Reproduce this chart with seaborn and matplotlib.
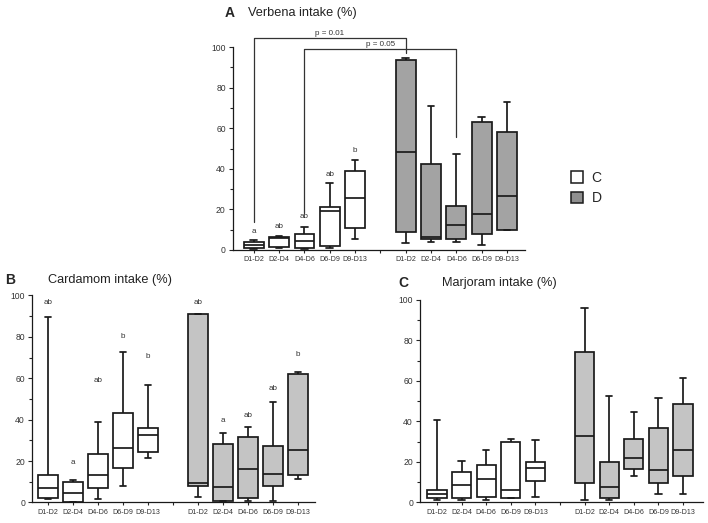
import matplotlib
matplotlib.use("Agg")
import matplotlib.pyplot as plt
from matplotlib.patches import Patch
import seaborn as sns
import pandas as pd

# five-number summaries per box: [min, q1, median, q3, max]
periods = ["D1-D2", "D2-D4", "D4-D6", "D6-D9", "D9-D13"]

verbena_C = [[0.5, 0.8, 2.5, 4.1, 4.9],
             [1.0, 1.3, 5.7, 6.2, 6.9],
             [0.5, 0.8, 4.4, 7.9, 11.5],
             [0.8, 2.0, 19.3, 21.0, 32.8],
             [5.6, 10.8, 25.4, 39.0, 44.3]]
verbena_D = [[3.6, 8.7, 48.4, 93.4, 94.8],
             [4.1, 5.2, 6.6, 42.3, 70.8],
             [4.1, 5.2, 12.5, 21.8, 47.5],
             [2.5, 7.7, 17.7, 63.2, 65.7],
             [9.9, 9.9, 26.8, 58.0, 72.7]]

cardamom_C = [[1.8, 2.0, 7.0, 13.3, 89.5],
              [0.0, 0.0, 4.8, 10.0, 10.8],
              [1.5, 7.0, 13.3, 23.3, 39.0],
              [7.8, 16.5, 26.1, 43.0, 72.7],
              [21.6, 24.2, 32.6, 35.8, 57.0]]
cardamom_D = [[2.5, 7.8, 9.5, 91.3, 91.3],
              [0.5, 0.8, 7.3, 28.1, 33.4],
              [0.8, 2.0, 16.1, 31.8, 36.6],
              [0.8, 7.8, 13.6, 27.5, 48.7],
              [11.5, 13.3, 25.6, 62.0, 63.1]]

marjoram_C = [[1.0, 2.0, 4.3, 5.9, 40.8],
              [1.2, 2.0, 8.4, 15.2, 20.3],
              [1.2, 2.6, 11.4, 18.3, 26.0],
              [2.0, 2.0, 6.3, 29.9, 31.5],
              [2.6, 10.6, 16.9, 20.0, 30.6]]
marjoram_D = [[1.2, 9.4, 32.9, 74.5, 95.9],
              [1.2, 2.0, 7.5, 20.0, 52.3],
              [13.1, 16.6, 22.0, 31.1, 44.6],
              [4.3, 9.7, 16.2, 36.7, 51.5],
              [4.3, 13.1, 25.9, 48.7, 61.3]]

# significance letters
verbena_letters_C = ["a", "ab", "ab", "ab", "b"]
verbena_letter_y_C = [9.2, 11.7, 16.7, 37.0, 49.0]
cardamom_letters_C = ["ab", "a", "ab", "b", "b"]
cardamom_letter_y_C = [96.4, 19.4, 58.7, 80.0, 70.3]
cardamom_letters_D = ["ab", "a", "ab", "ab", "b"]
cardamom_letter_y_D = [96.4, 39.4, 42.0, 55.0, 71.6]

sns.set_style("ticks")
plt.rcParams["font.family"] = ["Liberation Sans", "DejaVu Sans"]

order = [f"C {p}" for p in periods] + ["gap"] + [f"D {p}" for p in periods]


def make_frame(c_stats, d_stats):
    rows = []
    for grp, stats in (("C", c_stats), ("D", d_stats)):
        for p, s in zip(periods, stats):
            for v in s:
                rows.append({"slot": f"{grp} {p}", "group": grp, "value": v})
    return pd.DataFrame(rows)


def draw_panel(ax, c_stats, d_stats, dark, xlim):
    df = make_frame(c_stats, d_stats)
    sns.boxplot(data=df, x="slot", y="value", hue="group", order=order,
                palette={"C": "white", "D": dark}, saturation=1, dodge=False,
                whis=(0, 100), width=0.78, linecolor="#1a1a1a", linewidth=1.25,
                legend=False, capwidths=0.26, ax=ax)
    for art in ax.patches + ax.lines:
        art.set_clip_on(False)
    ax.set_xlim(*xlim)
    ax.set_ylim(0, 100)
    ax.set_xticks(range(11))
    ax.set_xticklabels(periods + [""] + periods, fontsize=5.1, color="#333333")
    ax.set_yticks(range(0, 101, 20))
    ax.set_yticks(range(10, 100, 20), minor=True)
    ax.tick_params(axis="y", labelsize=6.2, labelcolor="#333333", length=3, width=0.8, pad=2)
    ax.tick_params(axis="y", which="minor", length=2, width=0.8)
    ax.tick_params(axis="x", length=2.5, width=0.8, pad=2)
    ax.set_xlabel("")
    ax.set_ylabel("")
    sns.despine(ax=ax)
    for s in ("left", "bottom"):
        ax.spines[s].set_linewidth(0.9)
        ax.spines[s].set_color("#1a1a1a")


def add_letters(ax, offset, letters, ys):
    for i, (t, y) in enumerate(zip(letters, ys)):
        ax.text(offset + i, y, t, ha="center", va="center", fontsize=5.8, color="#333333")


fig = plt.figure(figsize=(7.08, 5.23), dpi=100)
axA = fig.add_axes([0.3287, 0.5220, 0.4124, 0.3881])
axB = fig.add_axes([0.0452, 0.0392, 0.4004, 0.3958])
axC = fig.add_axes([0.5932, 0.0396, 0.3993, 0.3868])

draw_panel(axA, verbena_C, verbena_D, "#a3a3a3", (-0.83, 10.7))
draw_panel(axB, cardamom_C, cardamom_D, "#c4c4c4", (-0.64, 10.7))
draw_panel(axC, marjoram_C, marjoram_D, "#c4c4c4", (-0.69, 10.8))

add_letters(axA, 0, verbena_letters_C, verbena_letter_y_C)
add_letters(axB, 0, cardamom_letters_C, cardamom_letter_y_C)
add_letters(axB, 6, cardamom_letters_D, cardamom_letter_y_D)

# significance brackets in panel A
br = dict(color="#333333", lw=0.9, clip_on=False)
axA.plot([0, 0, 6, 6], [13.9, 104.3, 104.3, 96.9], **br)
axA.plot([2, 2, 8, 8], [18.0, 98.8, 98.8, 55.5], **br)
axA.text(3, 105.0, "p = 0.01", ha="center", va="bottom", fontsize=5.8, color="#333333")
axA.text(5, 99.5, "p = 0.05", ha="center", va="bottom", fontsize=5.8, color="#333333")

# panel titles
for letter, lx, tx, y, title in [("A", 225, 248, 13, "Verbena intake (%)"),
                                  ("B", 5, 48, 280, "Cardamom intake (%)"),
                                  ("C", 398, 442, 283, "Marjoram intake (%)")]:
    fig.text(lx / 708, 1 - y / 523, letter, fontsize=10, fontweight="bold", va="center", ha="left")
    fig.text(tx / 708, 1 - y / 523, title, fontsize=9.2, va="center", ha="left", color="#222222")

handles = [Patch(facecolor="white", edgecolor="#1a1a1a", linewidth=1.1, label="C"),
           Patch(facecolor="#8f8f8f", edgecolor="#1a1a1a", linewidth=1.1, label="D")]
fig.legend(handles=handles, loc="center", bbox_to_anchor=(586 / 708, 1 - 188 / 523),
           frameon=False, fontsize=10, handlelength=0.9, handleheight=0.9,
           handletextpad=0.6, labelspacing=0.45)

fig.savefig("out.png", dpi=100)
